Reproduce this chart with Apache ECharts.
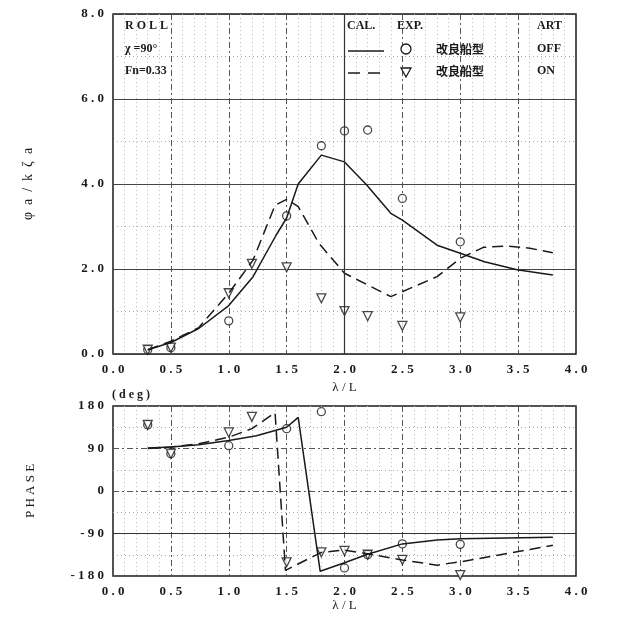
<!DOCTYPE html>
<html><head><meta charset="utf-8">
<script src="https://cdn.jsdelivr.net/npm/echarts@6/dist/echarts.min.js"></script>
<style>html,body{margin:0;padding:0;background:#fff}#c{width:626px;height:620px}</style>
</head><body><div id="c"></div>
<script>
// ---- data ----
const xTicks = [0, 0.5, 1.0, 1.5, 2.0, 2.5, 3.0, 3.5, 4.0];
const ampTicks = [0, 2, 4, 6, 8];
const phaseTicks = [-180, -90, 0, 90, 180];

// amplitude, calculation
const calOffX = [0.3,0.5,0.74,1.0,1.21,1.41,1.5,1.6,1.8,2.0,2.19,2.4,2.5,2.8,3.0,3.21,3.49,3.8];
const calOffAmp = [0.1,0.27,0.6,1.14,1.82,2.8,3.2,4.0,4.68,4.52,3.98,3.31,3.15,2.56,2.37,2.17,1.98,1.86];
const calOnX = [0.3,0.5,0.74,1.0,1.21,1.4,1.5,1.6,1.78,2.0,2.4,2.8,3.0,3.2,3.4,3.6,3.8];
const calOnAmp = [0.1,0.3,0.62,1.43,2.21,3.5,3.64,3.47,2.6,1.9,1.35,1.82,2.25,2.51,2.54,2.49,2.38];
// amplitude, experiment
const expOffX = [0.3,0.5,1.0,1.5,1.8,2.0,2.2,2.5,3.0];
const expOffAmp = [0.1,0.15,0.78,3.25,4.9,5.25,5.27,3.66,2.64];
const expOnX = [0.3,0.5,1.0,1.2,1.5,1.8,2.0,2.2,2.5,3.0];
const expOnAmp = [0.1,0.15,1.43,2.12,2.04,1.31,1.01,0.89,0.66,0.86];

// phase, calculation
const calOffPhX = [0.3,0.5,0.74,1.0,1.24,1.5,1.6,1.79,2.0,2.2,2.5,2.8,3.0,3.8];
const calOffPh = [91,93,98,107,117,135,156,-170,-152,-134,-112,-104,-101,-98];
const calOnPhX = [0.3,0.5,0.74,1.0,1.2,1.4,1.49,1.8,2.0,2.2,2.5,2.8,3.0,3.8];
const calOnPh = [90,93,100,114,132,166,-168,-130,-125,-133,-146,-157,-150,-115];
// phase, experiment
const expOffPh = [140,79,96,132,168,-163,-135,-112,-113];
const expOnPh = [140,79,124,157,-151,-130,-127,-135,-146,-178];

// ---- helpers ----
const zip = (xs, ys) => xs.map((x, i) => [x, ys[i]]);
const spaced = s => String(s).split('').join(' ');
const FONT = 'Liberation Serif';
const INK = '#1a1a1a';

const lab = {color: INK, fontFamily: FONT, fontSize: 13, fontWeight: 'bold'};
function xAxis(gi) {
  return {
    type: 'value', gridIndex: gi, min: 0, max: 4, interval: 0.5,
    name: 'λ / L', nameLocation: 'middle', nameGap: gi === 0 ? 25 : 22,
    nameTextStyle: {color: INK, fontFamily: FONT, fontSize: 13},
    axisLine: {show: false}, axisTick: {show: false},
    axisLabel: Object.assign({margin: 9, formatter: v => spaced(v.toFixed(1))}, lab),
    splitLine: {show: true, lineStyle: {color: '#555', type: [6, 3, 2, 3], width: 1}},
    minorTick: {show: false, splitNumber: 5},
    minorSplitLine: {show: true, lineStyle: {color: '#bbb', type: [1, 3], width: 1}}
  };
}
const solid = {color: INK, width: 1.5, type: 'solid'};
const dashed = {color: INK, width: 1.5, type: [11, 6]};
const circ = {color: '#fff', borderColor: INK, borderWidth: 1.3};

const option = {
  animation: false,
  backgroundColor: '#fff',
  grid: [
    {left: 113, top: 14, width: 463, height: 340, show: true, borderColor: INK, borderWidth: 1.5, backgroundColor: 'transparent'},
    {left: 113, top: 406, width: 463, height: 170, show: true, borderColor: INK, borderWidth: 1.5, backgroundColor: 'transparent'}
  ],
  xAxis: [xAxis(0), xAxis(1)],
  yAxis: [
    {type: 'value', gridIndex: 0, min: 0, max: 8, interval: 2,
     name: 'φ  a  /  k  ζ  a', nameLocation: 'middle', nameGap: 78, nameRotate: 90,
     nameTextStyle: {color: INK, fontFamily: FONT, fontSize: 14},
     axisLine: {show: false}, axisTick: {show: false},
     axisLabel: Object.assign({margin: 9, formatter: v => spaced(v.toFixed(1))}, lab),
     splitLine: {show: true, lineStyle: {color: '#444', width: 1}},
     minorTick: {show: false, splitNumber: 2},
     minorSplitLine: {show: true, lineStyle: {color: '#aaa', type: [1, 3], width: 1}}},
    {type: 'value', gridIndex: 1, min: -180, max: 180, interval: 90,
     name: 'P H A S E', nameLocation: 'middle', nameGap: 76, nameRotate: 90,
     nameTextStyle: {color: INK, fontFamily: FONT, fontSize: 13},
     axisLine: {show: false}, axisTick: {show: false},
     axisLabel: Object.assign({margin: 9, formatter: v => spaced(v)}, lab),
     splitLine: {show: true, lineStyle: {color: '#555', type: [6, 3, 2, 3], width: 1}},
     minorTick: {show: false, splitNumber: 2},
     minorSplitLine: {show: true, lineStyle: {color: '#aaa', type: [1, 3], width: 1}}}
  ],
  series: [
    {type: 'line', xAxisIndex: 0, yAxisIndex: 0, data: zip(calOffX, calOffAmp), showSymbol: false, lineStyle: solid,
     markLine: {silent: true, symbol: 'none', label: {show: false}, lineStyle: {color: '#333', type: 'solid', width: 1.2}, data: [{xAxis: 2.0}]}},
    {type: 'line', xAxisIndex: 0, yAxisIndex: 0, data: zip(calOnX, calOnAmp), showSymbol: false, lineStyle: dashed},
    {type: 'scatter', xAxisIndex: 0, yAxisIndex: 0, data: zip(expOffX, expOffAmp), symbol: 'circle', symbolSize: 8, itemStyle: circ},
    {type: 'scatter', xAxisIndex: 0, yAxisIndex: 0, data: zip(expOnX, expOnAmp), symbol: 'triangle', symbolRotate: 180, symbolSize: 9, itemStyle: circ},
    {type: 'line', xAxisIndex: 1, yAxisIndex: 1, data: zip(calOffPhX, calOffPh), showSymbol: false, lineStyle: solid,
     markLine: {silent: true, symbol: 'none', label: {show: false}, lineStyle: {color: '#333', type: 'solid', width: 1.2}, data: [{yAxis: -90}]}},
    {type: 'line', xAxisIndex: 1, yAxisIndex: 1, data: zip(calOnPhX, calOnPh), showSymbol: false, lineStyle: dashed},
    {type: 'scatter', xAxisIndex: 1, yAxisIndex: 1, data: zip(expOffX, expOffPh), symbol: 'circle', symbolSize: 8, itemStyle: circ},
    {type: 'scatter', xAxisIndex: 1, yAxisIndex: 1, data: zip(expOnX, expOnPh), symbol: 'triangle', symbolRotate: 180, symbolSize: 9, itemStyle: circ}
  ],
  graphic: [
    {type: 'text', left: 125, top: 20, z: 10, style: {text: 'R O L L', font: 'bold 12px ' + FONT, fill: INK}},
    {type: 'text', left: 125, top: 43, z: 10, style: {text: 'χ =90°', font: 'bold 12px ' + FONT, fill: INK}},
    {type: 'text', left: 125, top: 65, z: 10, style: {text: 'Fn=0.33', font: 'bold 12px ' + FONT, fill: INK}},
    {type: 'text', left: 347, top: 20, z: 10, style: {text: 'CAL.', font: 'bold 12px ' + FONT, fill: INK}},
    {type: 'text', left: 397, top: 20, z: 10, style: {text: 'EXP.', font: 'bold 12px ' + FONT, fill: INK}},
    {type: 'text', left: 537, top: 20, z: 10, style: {text: 'ART', font: 'bold 12px ' + FONT, fill: INK}},
    {type: 'line', z: 10, shape: {x1: 348, y1: 51, x2: 384, y2: 51}, style: {stroke: INK, lineWidth: 1.5}},
    {type: 'circle', z: 10, shape: {cx: 406, cy: 49, r: 5}, style: {fill: '#fff', stroke: INK, lineWidth: 1.3}},
    {type: 'text', left: 436, top: 43, z: 10, style: {text: '改良船型', font: 'bold 12px "Noto Sans CJK JP"', fill: INK}},
    {type: 'text', left: 537, top: 43, z: 10, style: {text: 'OFF', font: 'bold 12px ' + FONT, fill: INK}},
    {type: 'line', z: 10, shape: {x1: 348, y1: 73, x2: 384, y2: 73}, style: {stroke: INK, lineWidth: 1.5, lineDash: [12, 8]}},
    {type: 'polygon', z: 10, shape: {points: [[401, 68], [411, 68], [406, 77]]}, style: {fill: '#fff', stroke: INK, lineWidth: 1.3}},
    {type: 'text', left: 436, top: 65, z: 10, style: {text: '改良船型', font: 'bold 12px "Noto Sans CJK JP"', fill: INK}},
    {type: 'text', left: 537, top: 65, z: 10, style: {text: 'ON', font: 'bold 12px ' + FONT, fill: INK}},
    {type: 'text', left: 112, top: 389, z: 10, style: {text: '( d e g )', font: 'bold 12px ' + FONT, fill: INK}}
  ]
};
const chart = echarts.init(document.getElementById('c'), null, {renderer: 'canvas'});
chart.setOption(option);
</script></body></html>
